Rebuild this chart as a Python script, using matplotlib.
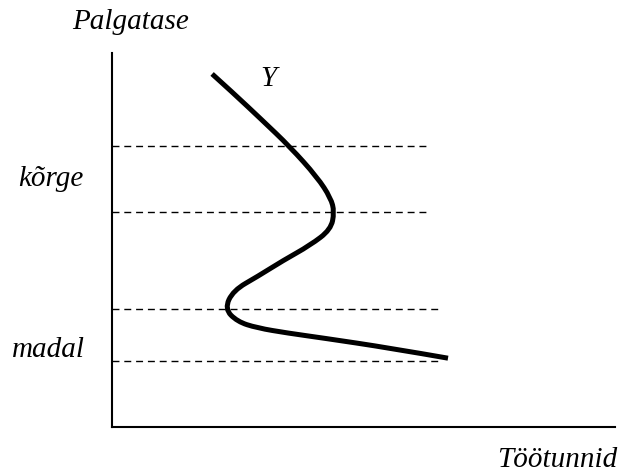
import matplotlib
matplotlib.use("Agg")
import matplotlib.pyplot as plt
from matplotlib.path import Path
from matplotlib.patches import PathPatch

# Curve Y (hours on x, wage level on y), in axis units 0..100
curve_x = [19.9, 24.1, 29.8, 35.4, 40.8, 43.5, 44.2, 43.5, 39.4, 34.0, 29.0, 24.1, 22.4, 24.9, 28.8, 35.0, 41.9, 55.3, 66.8]
curve_y = [94.4, 89.3, 82.1, 74.9, 66.8, 61.2, 57.5, 52.8, 48.6, 44.5, 40.3, 36.5, 31.6, 28.2, 26.5, 25.1, 23.8, 21.1, 18.4]

# Dashed reference levels
level_y = [75.2, 57.5, 31.6, 17.6]
level_xend = [62.6, 63.2, 65.6, 65.6]

W, H = 619, 475
fig = plt.figure(figsize=(W / 100, H / 100), dpi=100)
ax = fig.add_axes([112 / W, 1 - 427 / H, 503 / W, 374 / H])
ax.set_xlim(0, 100)
ax.set_ylim(0, 100)
for s in ["top", "right"]:
    ax.spines[s].set_visible(False)
for s in ["left", "bottom"]:
    ax.spines[s].set_linewidth(1.5)
ax.set_xticks([])
ax.set_yticks([])

for y, xe in zip(level_y, level_xend):
    ax.plot([0, xe], [y, y], color="black", lw=1.0, ls=(0, (5, 3.5)))

# smooth curve: quadratic B-spline through the read points (points act as control points)
pts = list(zip(curve_x, curve_y))
verts = [pts[0]]
codes = [Path.MOVETO]
for i in range(1, len(pts) - 1):
    nxt = pts[i + 1] if i + 1 == len(pts) - 1 else ((pts[i][0] + pts[i + 1][0]) / 2, (pts[i][1] + pts[i + 1][1]) / 2)
    verts += [pts[i], nxt]
    codes += [Path.CURVE3, Path.CURVE3]
ax.add_patch(PathPatch(Path(verts, codes), fill=False, edgecolor="black", lw=3.6,
                       capstyle="butt", joinstyle="round"))

font = dict(family="Liberation Serif", style="italic", size=21)
fig.text(72 / W, 1 - 29 / H, "Palgatase", ha="left", va="baseline", **font)
fig.text(18 / W, 1 - 186 / H, "kõrge", ha="left", va="baseline", **font)
fig.text(12 / W, 1 - 357 / H, "madal", ha="left", va="baseline", **font)
fig.text(617 / W, 1 - 467 / H, "Töötunnid", ha="right", va="baseline", **font)
fig.text(268 / W, 1 - 86 / H, "Y", ha="center", va="baseline", **font)

fig.savefig("out.png", dpi=100)
